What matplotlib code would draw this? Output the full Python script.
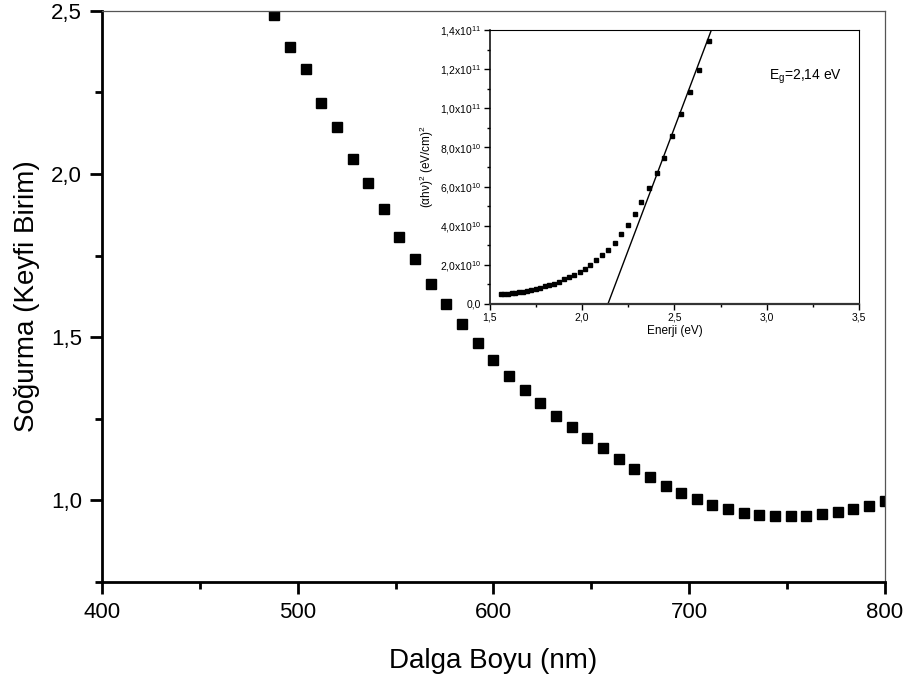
import matplotlib
matplotlib.use("Agg")
import matplotlib.pyplot as plt
from matplotlib.ticker import MultipleLocator, FuncFormatter

plt.rcParams['font.family'] = ['Liberation Sans', 'DejaVu Sans']
plt.rcParams['mathtext.fontset'] = 'custom'
plt.rcParams['mathtext.rm'] = 'Liberation Sans'
plt.rcParams['mathtext.it'] = 'Liberation Sans:italic'

# main absorbance curve
wavelength = [488, 496, 504, 512, 520, 528, 536, 544, 552, 560,
              568, 576, 584, 592, 600, 608, 616, 624, 632, 640,
              648, 656, 664, 672, 680, 688, 696, 704, 712, 720,
              728, 736, 744, 752, 760, 768, 776, 784, 792, 800]
absorbance = [2.486, 2.389, 2.321, 2.219, 2.144, 2.045, 1.973, 1.894, 1.808, 1.739,
              1.663, 1.601, 1.540, 1.482, 1.430, 1.382, 1.337, 1.297, 1.260, 1.226,
              1.191, 1.159, 1.128, 1.096, 1.071, 1.045, 1.022, 1.003, 0.987, 0.972,
              0.962, 0.956, 0.951, 0.951, 0.953, 0.957, 0.965, 0.973, 0.984, 0.999]

# inset tauc plot
energy = [1.559, 1.578, 1.598, 1.618, 1.638, 1.659, 1.681, 1.703, 1.726, 1.749,
          1.773, 1.798, 1.823, 1.849, 1.877, 1.904, 1.931, 1.958, 1.987, 2.016,
          2.045, 2.074, 2.107, 2.141, 2.177, 2.210, 2.246, 2.284, 2.321, 2.362,
          2.404, 2.446, 2.489, 2.536, 2.583, 2.634, 2.685]
ahv2 = [0.51, 0.52, 0.53, 0.55, 0.57, 0.60, 0.63, 0.67, 0.72, 0.77,
        0.83, 0.90, 0.97, 1.03, 1.13, 1.25, 1.36, 1.48, 1.61, 1.81,
        2.00, 2.24, 2.48, 2.77, 3.14, 3.55, 4.03, 4.61, 5.20, 5.92,
        6.71, 7.45, 8.57, 9.72, 10.85, 11.97, 13.45]
ahv2 = [v * 1e10 for v in ahv2]

# linear fit of the edge
eg = 2.14
fit_slope = 2.5e11

fig = plt.figure(figsize=(9.12, 6.83), dpi=100)
ax = fig.add_axes([0.112, 0.148, 0.858, 0.836])

ax.plot(wavelength, absorbance, 's', color='black', markersize=7, linestyle='none')
ax.set_xlim(400, 800)
ax.set_ylim(0.75, 2.5)
ax.xaxis.set_major_locator(MultipleLocator(100))
ax.xaxis.set_minor_locator(MultipleLocator(50))
ax.yaxis.set_major_locator(MultipleLocator(0.5))
ax.yaxis.set_minor_locator(MultipleLocator(0.25))
ax.yaxis.set_major_formatter(FuncFormatter(lambda v, p: f"{v:.1f}".replace('.', ',')))
ax.tick_params(which='major', direction='out', length=8.5, width=2, labelsize=16, pad=6)
ax.tick_params(which='minor', direction='out', length=5, width=2)
ax.spines['left'].set_linewidth(2)
ax.spines['bottom'].set_linewidth(2)
for s in ['top', 'right']:
    ax.spines[s].set_linewidth(0.9)
    ax.spines[s].set_color('#555555')
ax.set_xlabel('Dalga Boyu (nm)', fontsize=20, labelpad=18)
ax.set_ylabel('Soğurma (Keyfi Birim)', fontsize=20, labelpad=8)


def sci_fmt(v, p):
    if v == 0:
        return '0,0'
    exp = 11 if v >= 1e11 - 1 else 10
    m = v / 10 ** exp
    return f"{m:.1f}".replace('.', ',') + 'x10$^{' + str(exp) + '}$'


ins = fig.add_axes([0.537, 0.555, 0.405, 0.401])
ins.plot(energy, ahv2, 's', color='black', markersize=3.5, linestyle='none')
ins.axline((eg, 0), slope=fit_slope, color='black', linewidth=1)
ins.set_xlim(1.5, 3.5)
ins.set_ylim(0, 1.4e11)
ins.xaxis.set_major_locator(MultipleLocator(0.5))
ins.xaxis.set_minor_locator(MultipleLocator(0.25))
ins.yaxis.set_major_locator(MultipleLocator(2e10))
ins.yaxis.set_minor_locator(MultipleLocator(1e10))
ins.xaxis.set_major_formatter(FuncFormatter(lambda v, p: f"{v:.1f}".replace('.', ',')))
ins.yaxis.set_major_formatter(FuncFormatter(sci_fmt))
ins.tick_params(which='major', direction='out', length=4, width=1, labelsize=7.5, pad=2)
ins.tick_params(which='minor', direction='out', length=2.5, width=1)
ins.spines['bottom'].set_linewidth(1.6)
ins.spines['bottom'].set_color('#333333')
ins.spines['left'].set_linewidth(1.1)
ins.set_xlabel('Enerji (eV)', fontsize=8.5, labelpad=2)
ins.set_ylabel('(αhν)$^2$ (eV/cm)$^2$', fontsize=8.5, labelpad=3)
ins.text(3.01, 1.16e11, 'E$_\\mathrm{g}$=2,14 eV', fontsize=10, va='center')

fig.savefig('out.png', dpi=100)
